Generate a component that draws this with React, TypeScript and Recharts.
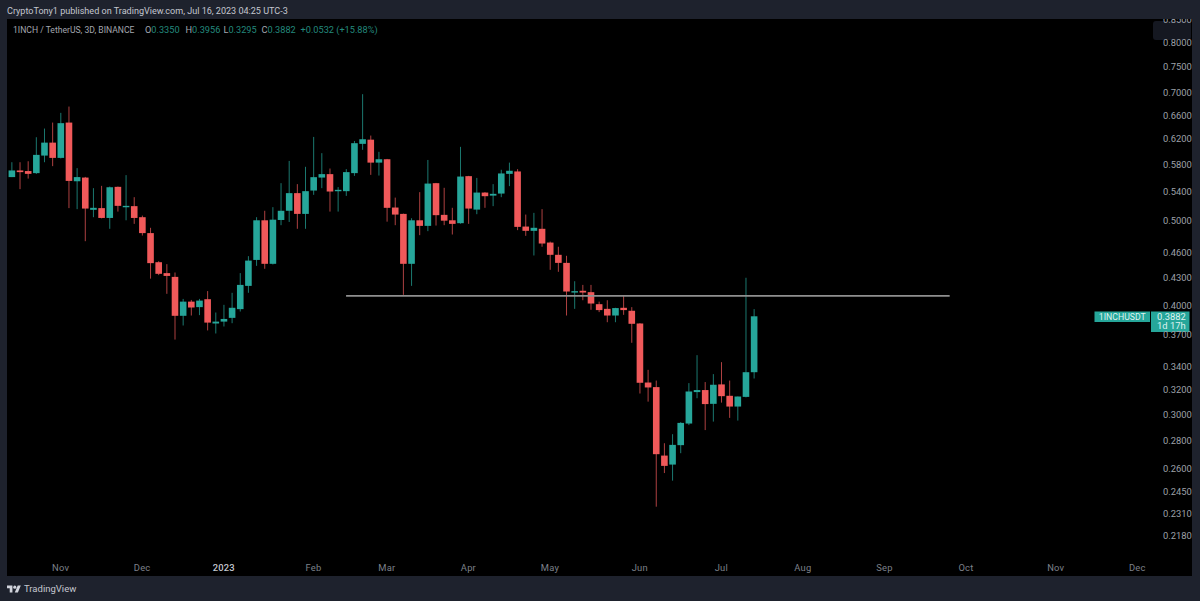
import React from "react";
import { ComposedChart, Bar, XAxis, YAxis, ReferenceLine } from "recharts";

const opens = [0.5603,0.5702,0.5693,0.5662,0.5930,0.6136,0.5894,0.6469,0.5542,0.5596,0.5140,0.5163,0.5031,0.5461,0.5180,0.5190,0.5041,0.4834,0.4477,0.4350,0.4307,0.3887,0.4035,0.3977,0.4061,0.3809,0.3828,0.3866,0.3956,0.4206,0.4504,0.5000,0.4458,0.5004,0.5127,0.5371,0.5085,0.5408,0.5596,0.5647,0.5404,0.5399,0.5662,0.6116,0.6184,0.5821,0.5873,0.5171,0.5085,0.4458,0.5000,0.4927,0.5514,0.5072,0.5000,0.4962,0.5617,0.5143,0.5379,0.5336,0.5365,0.5651,0.5687,0.4918,0.4863,0.4889,0.4715,0.4565,0.4469,0.4141,0.4152,0.4137,0.4008,0.3959,0.3890,0.3970,0.3939,0.3809,0.3260,0.3221,0.2689,0.2626,0.2764,0.2926,0.3179,0.3196,0.3082,0.3244,0.3148,0.3060,0.3139,0.3350];
const highs = [0.5827,0.5827,0.5842,0.6224,0.6368,0.6469,0.6637,0.6748,0.5737,0.5606,0.5442,0.5475,0.5465,0.5465,0.5632,0.5314,0.5062,0.4902,0.4489,0.4454,0.4357,0.4064,0.4053,0.4064,0.4149,0.3921,0.4001,0.4130,0.4350,0.4549,0.5041,0.5127,0.5176,0.5514,0.5847,0.5500,0.5757,0.6229,0.5968,0.5731,0.5457,0.5722,0.6163,0.6972,0.6251,0.5989,0.5878,0.5308,0.5089,0.5027,0.5385,0.5862,0.5518,0.5447,0.5167,0.6068,0.5621,0.5591,0.5385,0.5500,0.5712,0.5821,0.5722,0.5076,0.5099,0.5149,0.4727,0.4663,0.4553,0.4258,0.4217,0.4217,0.4035,0.4050,0.3970,0.4100,0.3977,0.3813,0.3371,0.3277,0.2778,0.2845,0.2937,0.3255,0.3504,0.3264,0.3333,0.3440,0.3277,0.3142,0.4297,0.3956];
const lows = [0.5603,0.5428,0.5581,0.5650,0.5827,0.5767,0.5885,0.5163,0.5149,0.4732,0.5041,0.5025,0.4889,0.5116,0.5000,0.4953,0.4803,0.4287,0.4327,0.4119,0.3651,0.3789,0.3890,0.3894,0.3740,0.3710,0.3779,0.3812,0.3931,0.4130,0.4434,0.4400,0.4450,0.4936,0.4978,0.4889,0.4889,0.5347,0.5442,0.5116,0.5116,0.5332,0.5621,0.6021,0.5636,0.5626,0.4982,0.4936,0.4108,0.4206,0.4808,0.4859,0.4931,0.4936,0.4816,0.4955,0.4953,0.5081,0.5167,0.5190,0.5314,0.5471,0.4872,0.4799,0.4557,0.4663,0.4388,0.4365,0.3890,0.3959,0.4050,0.3949,0.3925,0.3822,0.3822,0.3897,0.3620,0.3167,0.3100,0.2350,0.2568,0.2517,0.2706,0.2914,0.3128,0.2876,0.2941,0.3092,0.2970,0.2949,0.3135,0.3295];
const closes = [0.5702,0.5677,0.5651,0.5941,0.6136,0.5894,0.6459,0.5547,0.5603,0.5157,0.5167,0.5031,0.5455,0.5194,0.5194,0.5031,0.4834,0.4466,0.4342,0.4318,0.3887,0.4035,0.3973,0.4046,0.3818,0.3828,0.3855,0.3970,0.4217,0.4496,0.5000,0.4458,0.5008,0.5127,0.5371,0.5085,0.5399,0.5602,0.5647,0.5394,0.5418,0.5677,0.6127,0.6191,0.5821,0.5873,0.5167,0.5076,0.4458,0.5000,0.4927,0.5508,0.5068,0.4995,0.4953,0.5611,0.5157,0.5379,0.5328,0.5361,0.5657,0.5697,0.4914,0.4863,0.4902,0.4703,0.4565,0.4469,0.4144,0.4148,0.4133,0.4015,0.3946,0.3890,0.3967,0.3946,0.3806,0.3258,0.3218,0.2699,0.2617,0.2766,0.2931,0.3184,0.3196,0.3080,0.3241,0.3145,0.3060,0.3142,0.3350,0.3882];

const priceTicks = [0.85,0.8,0.75,0.7,0.66,0.62,0.58,0.54,0.5,0.46,0.43,0.4,0.37,0.34,0.32,0.3,0.28,0.26,0.245,0.231,0.218];
const timeTicks = [6,16,26,37,46,56,66,77,87,97,107,117,128,138];
const timeLabels = ["Nov","Dec","2023","Feb","Mar","Apr","May","Jun","Jul","Aug","Sep","Oct","Nov","Dec"];
const levelPrice = 0.4097;
const levelFrom = 41;
const levelTo = 115;
const lastClose = closes[closes.length - 1];

const rows = opens.map((open, i) => ({ i, open, high: highs[i], low: lows[i], close: closes[i] }));

const FONT = "Roboto, 'Noto Sans', sans-serif";
const PANEL = "#1e222d";
const UP = "#26a69a";
const DOWN = "#f0595a";

function Candle(props: any) {
  const { x, y, width, height, payload } = props;
  const hi = Math.log(payload.high);
  const lo = Math.log(payload.low);
  const at = (p: number) => y + (height * (hi - Math.log(p))) / (hi - lo);
  const up = payload.close >= payload.open;
  const color = up ? UP : DOWN;
  const top = at(Math.max(payload.open, payload.close));
  const bot = at(Math.min(payload.open, payload.close));
  const cx = x + width / 2;
  return (
    <g>
      <line x1={cx} x2={cx} y1={y} y2={y + height} stroke={color} strokeWidth={1} strokeOpacity={0.72} />
      <rect x={x} y={top} width={width} height={Math.max(bot - top, 1.4)} fill={color} />
    </g>
  );
}

function TimeTick(props: any) {
  const { x, y, payload } = props;
  const label = timeLabels[timeTicks.indexOf(payload.value)];
  const strong = label === "2023";
  return (
    <text x={x} y={y + 11.5} textAnchor="middle" fontFamily={FONT} fontSize={9.4} fontWeight={strong ? 500 : 400} fill={strong ? "#c4c7cf" : "#7d808a"} letterSpacing={0.2}>
      {label}
    </text>
  );
}

function PriceTick(props: any) {
  const { x, y, payload } = props;
  return (
    <text x={x + 7} y={y + 3.8} fontFamily={FONT} fontSize={9.4} fill="#9ea1a9">
      {payload.value.toFixed(4)}
    </text>
  );
}

function PriceTag(props: any) {
  const vb = props.viewBox;
  const edge = vb.x + vb.width;
  const y = vb.y - 4.8;
  return (
    <g fontFamily={FONT} fontSize={9.4} fill="#dff3f0">
      <rect x={edge - 55.5} y={y} width={55.5} height={10.5} fill={UP} />
      <text x={edge - 27.7} y={y + 8.6} textAnchor="middle" fontSize={8.7}>1INCHUSDT</text>
      <rect x={edge + 1} y={y} width={38.5} height={20.5} fill={UP} />
      <text x={edge + 7} y={y + 8.6}>{lastClose.toFixed(4)}</text>
      <text x={edge + 7} y={y + 18}>1d 17h</text>
    </g>
  );
}

function abs(left: number, top: number, color: string, fontSize = 9.2): React.CSSProperties {
  return { position: "absolute", left, top, color, fontFamily: FONT, fontSize, lineHeight: "12px", whiteSpace: "nowrap" };
}

export default function App() {
  const gray = "#a3a6af";
  const teal = "#23897d";
  return (
    <div style={{ position: "fixed", left: 0, top: 0, width: 1200, height: 601, background: PANEL, overflow: "hidden" }}>
      <div style={{ position: "absolute", left: 7, top: 19, width: 1185, height: 557, background: "#000" }} />
      <div style={{ position: "absolute", left: 1153, top: 21, width: 38, height: 19, borderRadius: 3, background: "#151821" }} />
      <div style={{ position: "absolute", left: 0, top: 0 }}>
        <ComposedChart width={1200} height={601} data={rows} margin={{ top: 19, right: 8, bottom: 25, left: 7 }}>
          <XAxis
            dataKey="i"
            type="number"
            domain={[-0.57, 139.56]}
            allowDataOverflow
            ticks={timeTicks}
            interval={0}
            height={25}
            axisLine={false}
            tickLine={false}
            tick={<TimeTick />}
          />
          <YAxis
            orientation="right"
            type="number"
            scale="log"
            domain={[0.2091, 0.85]}
            allowDataOverflow
            ticks={priceTicks}
            interval={0}
            width={42}
            axisLine={false}
            tickLine={false}
            tickMargin={0}
            tick={<PriceTick />}
          />
          <Bar dataKey={(d: any) => [d.low, d.high]} barSize={6.6} shape={<Candle />} isAnimationActive={false} />
          <ReferenceLine
            segment={[{ x: levelFrom, y: levelPrice }, { x: levelTo, y: levelPrice }]}
            stroke="#8f8f8f"
            strokeWidth={1.8}
          />
          <ReferenceLine y={lastClose} stroke="none" label={<PriceTag />} />
        </ComposedChart>
      </div>
      <div style={{ position: "absolute", left: 0, top: 0, width: 1200, height: 19, background: PANEL }} />
      <div style={abs(7, 5, "#c4c7cf", 9.05)}>CryptoTony1 published on TradingView.com, Jul 16, 2023 04:25 UTC-3</div>
      <div style={abs(13, 24, gray, 8.6)}>1INCH / TetherUS, 3D, BINANCE</div>
      <div style={abs(145, 24, gray)}>O<span style={{ color: teal }}>0.3350</span></div>
      <div style={abs(185.5, 24, gray)}>H<span style={{ color: teal }}>0.3956</span></div>
      <div style={abs(223.5, 24, gray)}>L<span style={{ color: teal }}>0.3295</span></div>
      <div style={abs(261.5, 24, gray)}>C<span style={{ color: teal }}>0.3882</span></div>
      <div style={abs(300.5, 24, teal)}>+0.0532 (+15.88%)</div>
      <svg style={{ position: "absolute", left: 7, top: 583.5 }} width={14} height={11} viewBox="0 0 36 28">
        <path d="M14 22H7V11H0V4h14v18zM28 22h-8l7.5-18h8L28 22z" fill="#d1d4dc" />
        <circle cx={20} cy={8} r={4} fill="#d1d4dc" />
      </svg>
      <div style={abs(24, 583, "#c4c7cf", 9.5)}>TradingView</div>
    </div>
  );
}
